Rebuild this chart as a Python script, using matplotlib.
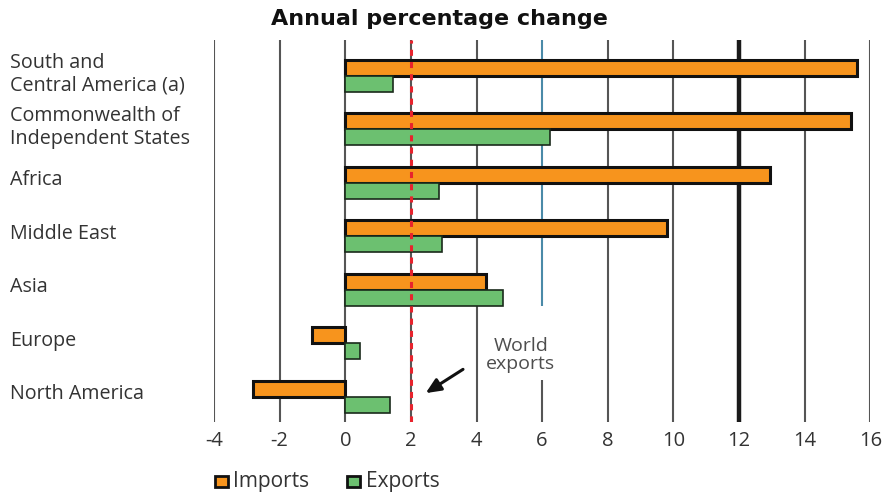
import matplotlib

matplotlib.use("Agg")
import matplotlib.pyplot as plt
from matplotlib import transforms

regions = [
    "South and\nCentral America (a)",
    "Commonwealth of\nIndependent States",
    "Africa",
    "Middle East",
    "Asia",
    "Europe",
    "North America",
]
imports = [15.6, 15.4, 12.95, 9.8, 4.3, -1.0, -2.8]
exports = [1.45, 6.25, 2.85, 2.95, 4.8, 0.45, 1.35]
world_exports = 2.0
x_ticks = [-4, -2, 0, 2, 4, 6, 8, 10, 12, 14, 16]

plt.rcParams["font.family"] = ["Open Sans", "DejaVu Sans"]

fig = plt.figure(figsize=(8.88, 4.95), dpi=100)
ax = fig.add_axes([0.241, 0.147, 0.739, 0.772])
y_lo, y_hi = 6.476, -0.664

# vertical reference lines
for x in x_ticks:
    if x == 12:
        ax.axvline(x, color="#1a1a1a", lw=3.2, zorder=1)
    elif x == 6:
        # broken around the "World exports" note
        ax.vlines(x, y_hi, 4.31, color="#4a8aa8", lw=1.5, zorder=1)
        ax.vlines(x, 5.68, y_lo, color="#555555", lw=1.5, zorder=1)
    else:
        ax.axvline(x, color="#555555", lw=1.5, zorder=1)

ys = list(range(len(regions)))
h = 0.30
ax.barh([y - h / 2 for y in ys], imports, height=h, color="#f7941d",
        edgecolor="#111111", linewidth=2.2, zorder=3)
ax.barh([y + h / 2 for y in ys], exports, height=h, color="#6cc070",
        edgecolor="#1a2a1b", linewidth=1.2, zorder=3)

ax.axvline(world_exports, color="#e8232d", lw=2.2, ls=(0, (2.0, 2.0)), zorder=4)

ax.text(5.35, 5.22, "World\nexports", ha="center", va="center",
        fontsize=14, color="#4d4d4d", linespacing=1.0, zorder=5)
ax.annotate("", xy=(2.38, 5.96), xytext=(3.66, 5.46),
            arrowprops=dict(arrowstyle="-|>,head_width=0.4,head_length=0.9",
                            color="#111111", lw=2.2), zorder=5)

ax.set_xlim(-4, 16)
ax.set_ylim(y_lo, y_hi)
ax.set_xticks(x_ticks)
ax.set_xticklabels([str(t) for t in x_ticks], fontsize=14.5, color="#333333")
ax.tick_params(axis="x", length=0, pad=6)
ax.set_yticks([])
for s in ax.spines.values():
    s.set_visible(False)

# region labels at the figure's left edge
label_tr = transforms.blended_transform_factory(fig.transFigure, ax.transData)
for y, name in zip(ys, regions):
    yy = y - 0.03 if "\n" in name else y - 0.05
    fig.text(10 / 888, yy, name, transform=label_tr, fontsize=14.2,
             color="#333333", ha="left", va="center", linespacing=1.15)

fig.text(0.495, 0.962, "Annual percentage change", ha="center", va="center",
         fontsize=16, fontweight="bold", family="DejaVu Sans", color="#111111")

# legend
fig.patches.append(plt.Rectangle((215 / 888, 1 - 487 / 495), 13 / 888, 11 / 495,
                                 transform=fig.transFigure, facecolor="#f7941d",
                                 edgecolor="#111111", lw=2))
fig.text(233 / 888, 1 - 481 / 495, "Imports", fontsize=15, color="#333333",
         va="center")
fig.patches.append(plt.Rectangle((347 / 888, 1 - 487 / 495), 13 / 888, 11 / 495,
                                 transform=fig.transFigure, facecolor="#6cc070",
                                 edgecolor="#111111", lw=2))
fig.text(366 / 888, 1 - 481 / 495, "Exports", fontsize=15, color="#333333",
         va="center")

fig.savefig("out.png", dpi=100)
